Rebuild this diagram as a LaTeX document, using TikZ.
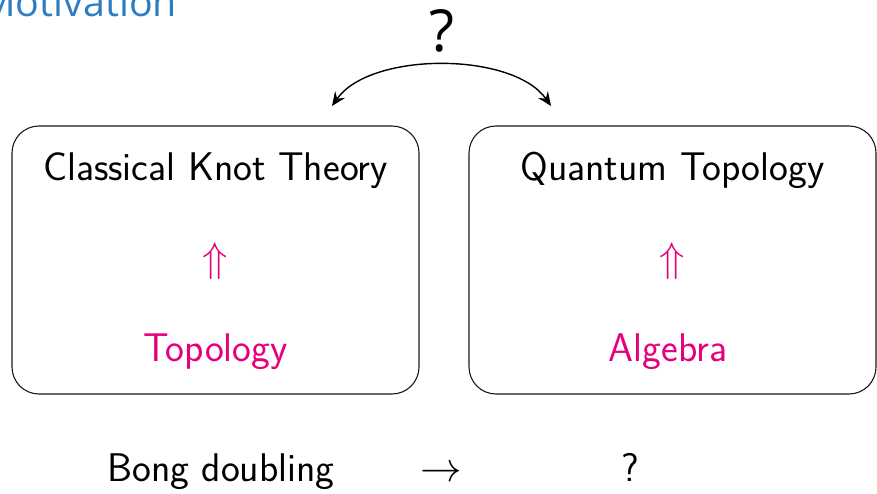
\documentclass[tikz,border=0pt]{standalone}
\usepackage{fontspec}
\usepackage{amsmath,amssymb}
\usepackage{xcolor}
\usetikzlibrary{arrows.meta,positioning}
\renewcommand{\familydefault}{\sfdefault}
\newfontfamily\headfont{Open Sans}
\definecolor{titleblue}{RGB}{45,125,195}
\definecolor{knotpink}{RGB}{230,0,126}

\begin{document}
\begin{tikzpicture}[
  x=0.5pt, y=0.5pt,
  >={Stealth[length=7pt,width=6pt,inset=2.5pt]},
  theorybox/.style={draw=black!90, line width=0.55pt, rounded corners=13.5pt,
    minimum width=203.5pt, minimum height=134pt, inner sep=0pt},
  mainlabel/.style={anchor=base, inner sep=0pt, font=\fontsize{20}{24}\selectfont},
  pinklabel/.style={mainlabel, text=knotpink},
]
\useasboundingbox (0,0) rectangle (877,493);

% Frame title
\node[anchor=base west, inner sep=0pt, font=\headfont\fontsize{19.7}{23}\selectfont,
  text=titleblue] (title) at (-20,476) {Motivation};

% Boxes
\node[theorybox] (leftbox) at (215.5,233) {};
\node[theorybox] (rightbox) at (672.5,233) {};

% Box contents
\node[mainlabel] (classical) at (215.5,312) {Classical Knot Theory};
\node[pinklabel, anchor=center] (leftup) at (215.5,232) {$\Uparrow$};
\node[pinklabel] (topology) at (215.5,132) {Topology};
\node[mainlabel] (quantum) at (672.5,312) {Quantum Topology};
\node[pinklabel, anchor=center] (rightup) at (672.5,232) {$\Uparrow$};
\node[pinklabel] (algebra) at (668,132) {Algebra};

% Question arc
\coordinate (qleft) at (332,387);
\coordinate (qright) at (551,387);
\draw[<->, line width=0.7pt] (qleft) to[out=55, in=125, looseness=0.78]
  node[midway, above=6pt, inner sep=0pt, font=\headfont\fontsize{29}{32}\selectfont] (qmark) {?}
  (qright);

% Bottom row
\node[mainlabel] (bong) at (221,12) {Bong doubling};
\node[mainlabel] (maps) at (441,12) {$\rightarrow$};
\node[mainlabel] (unknown) at (630,12) {?};
\end{tikzpicture}
\end{document}
